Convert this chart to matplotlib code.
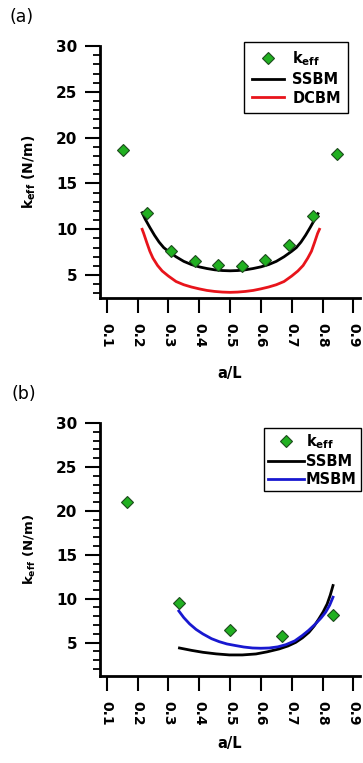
import matplotlib
matplotlib.use('Agg')
import matplotlib.pyplot as plt
from matplotlib.ticker import MultipleLocator

# ---------------- data ----------------
# panel (a)
a_keff_x = [0.154, 0.231, 0.308, 0.385, 0.462, 0.538, 0.615, 0.692, 0.769, 0.846]
a_keff_y = [18.7, 11.8, 7.6, 6.5, 6.1, 6.0, 6.6, 8.25, 11.45, 18.2]

a_ssbm_x = [0.215, 0.225, 0.24, 0.255, 0.27, 0.285, 0.30, 0.325, 0.35, 0.375, 0.40, 0.425,
            0.45, 0.475, 0.50, 0.525, 0.55, 0.575, 0.60, 0.625, 0.65, 0.675, 0.70, 0.715,
            0.73, 0.745, 0.76, 0.775, 0.785]
a_ssbm_y = [11.8, 11.1, 10.2, 9.35, 8.6, 8.0, 7.6, 7.0, 6.5, 6.15, 5.9, 5.72,
            5.58, 5.5, 5.47, 5.5, 5.58, 5.72, 5.9, 6.15, 6.5, 7.0, 7.6, 8.0,
            8.6, 9.35, 10.2, 11.1, 11.7]

a_dcbm_x = [0.215, 0.22, 0.225, 0.23, 0.24, 0.25, 0.265, 0.28, 0.30, 0.325, 0.35, 0.375,
            0.40, 0.425, 0.45, 0.475, 0.50, 0.525, 0.55, 0.575, 0.60, 0.625, 0.65, 0.675,
            0.70, 0.72, 0.737, 0.752, 0.764, 0.774, 0.779, 0.784, 0.79]
a_dcbm_y = [10.0, 9.55, 9.05, 8.55, 7.6, 6.85, 6.05, 5.45, 4.9, 4.3, 3.95, 3.7,
            3.5, 3.33, 3.22, 3.15, 3.12, 3.15, 3.22, 3.33, 3.5, 3.7, 3.95, 4.3,
            4.9, 5.45, 6.05, 6.85, 7.6, 8.55, 9.05, 9.55, 10.0]

# panel (b)
b_keff_x = [0.167, 0.333, 0.500, 0.667, 0.833]
b_keff_y = [21.0, 9.55, 6.45, 5.8, 8.15]

b_ssbm_x = [0.336, 0.375, 0.412, 0.455, 0.498, 0.54, 0.584, 0.62, 0.659, 0.688, 0.713,
            0.735, 0.756, 0.773, 0.788, 0.802, 0.815, 0.825, 0.834]
b_ssbm_y = [4.39, 4.12, 3.9, 3.72, 3.6, 3.6, 3.71, 3.95, 4.28, 4.62, 5.03,
            5.55, 6.18, 6.9, 7.7, 8.5, 9.4, 10.4, 11.5]

b_msbm_x = [0.334, 0.35, 0.369, 0.39, 0.412, 0.44, 0.465, 0.49, 0.519, 0.545, 0.573,
            0.60, 0.627, 0.655, 0.681, 0.71, 0.734, 0.755, 0.777, 0.795, 0.81, 0.823, 0.834]
b_msbm_y = [8.6, 7.85, 7.13, 6.5, 5.99, 5.45, 5.11, 4.85, 4.66, 4.5, 4.39,
            4.36, 4.39, 4.52, 4.77, 5.2, 5.8, 6.4, 7.13, 7.8, 8.46, 9.25, 10.17]

x_ticks = [0.1, 0.2, 0.3, 0.4, 0.5, 0.6, 0.7, 0.8, 0.9]
x_tick_labels = ['0.1', '0.2', '0.3', '0.4', '0.5', '0.6', '0.7', '0.8', '0.9']
y_ticks = [5, 10, 15, 20, 25, 30]
y_tick_labels = ['5', '10', '15', '20', '25', '30']

# ---------------- style ----------------
plt.rcParams['font.family'] = ['DejaVu Sans']
plt.rcParams['font.weight'] = 'bold'
plt.rcParams['mathtext.fontset'] = 'dejavusans'

GREEN = '#21b021'
GREEN_EDGE = '#1d4a1d'
RED = '#e8141b'
BLUE = '#1818d0'

fig = plt.figure(figsize=(3.63, 7.63), dpi=100)
ax1 = fig.add_axes([0.2755, 0.6088, 0.7163, 0.3309])
ax2 = fig.add_axes([0.2755, 0.1140, 0.7163, 0.3316])

keff_label = r'$\mathbf{k}_{\mathbf{eff}}$'


def style(ax, ymin, xlab_y, ylab_size):
    ax.set_xlim(0.0783, 0.9216)
    ax.set_ylim(ymin, 30)
    for s in ['top', 'right']:
        ax.spines[s].set_visible(False)
    for s in ['left', 'bottom']:
        ax.spines[s].set_linewidth(2.0)
    ax.set_xticks(x_ticks)
    ax.set_xticklabels(x_tick_labels, rotation=-90, fontsize=10, fontweight='bold')
    ax.set_yticks(y_ticks)
    ax.set_yticklabels(y_tick_labels, fontsize=11, fontweight='bold')
    ax.yaxis.set_minor_locator(MultipleLocator(1))
    ax.tick_params(axis='both', which='major', direction='out', length=10.8, width=1.5)
    ax.tick_params(axis='y', which='minor', direction='out', length=5, width=1.3)
    ax.tick_params(axis='x', which='major', pad=7)
    ax.tick_params(axis='y', which='major', pad=5.5)
    ax.set_xlabel('a/L', fontsize=10.5, fontweight='bold')
    ax.xaxis.set_label_coords(0.5, xlab_y)
    ax.set_ylabel(keff_label + ' (N/m)', fontsize=ylab_size, fontweight='bold')
    ax.yaxis.set_label_coords(-0.24, 0.5)


# panel (a)
l1, = ax1.plot(a_ssbm_x, a_ssbm_y, color='black', lw=2, label='SSBM', zorder=2)
l2, = ax1.plot(a_dcbm_x, a_dcbm_y, color=RED, lw=2, label='DCBM', zorder=2)
m1, = ax1.plot(a_keff_x, a_keff_y, ls='none', marker='D', ms=6, mfc=GREEN,
               mec=GREEN_EDGE, mew=0.8, label=keff_label, zorder=3)
style(ax1, 2.45, -0.267, 10)
leg1 = ax1.legend(handles=[m1, l1, l2], loc='upper right', bbox_to_anchor=(0.955, 1.015),
                  borderaxespad=0, fancybox=False, edgecolor='black', framealpha=1,
                  fontsize=10.5, handlelength=2.2, handletextpad=0.6,
                  labelspacing=0.25, borderpad=0.5)
leg1.get_frame().set_linewidth(1.0)

# panel (b)
l3, = ax2.plot(b_ssbm_x, b_ssbm_y, color='black', lw=2, label='SSBM', zorder=2)
l4, = ax2.plot(b_msbm_x, b_msbm_y, color=BLUE, lw=2, label='MSBM', zorder=2)
m2, = ax2.plot(b_keff_x, b_keff_y, ls='none', marker='D', ms=6, mfc=GREEN,
               mec=GREEN_EDGE, mew=0.8, label=keff_label, zorder=3)
style(ax2, 1.2, -0.237, 9.5)
leg2 = ax2.legend(handles=[m2, l3, l4], loc='upper right', bbox_to_anchor=(1.004, 0.981),
                  borderaxespad=0, fancybox=False, edgecolor='black', framealpha=1,
                  fontsize=10.5, handlelength=2.5, handletextpad=0.1,
                  labelspacing=0.2, borderpad=0.3)
leg2.get_frame().set_linewidth(1.0)

fig.text(0.027, 1 - 8 / 763, '(a)', fontsize=12.5, fontweight='normal', va='top', ha='left')
fig.text(0.033, 1 - 385 / 763, '(b)', fontsize=12.5, fontweight='normal', va='top', ha='left')

fig.savefig('out.png', dpi=100)
